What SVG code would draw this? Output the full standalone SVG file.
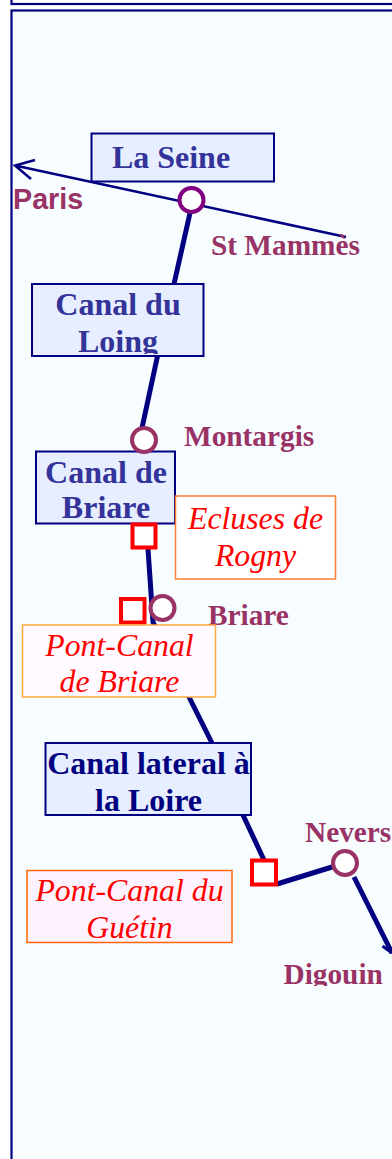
<svg xmlns="http://www.w3.org/2000/svg" width="392" height="1159" viewBox="0 0 392 1159">
<style>
.canal{fill:#e6eeff;stroke:#000080;stroke-width:2}
.ct{font:bold 32px "Liberation Serif",serif;fill:#333399;text-anchor:middle}
.place{font:bold 29.300px "Liberation Serif",serif;fill:#993366}
.wt{font:italic 31.800px "Liberation Serif",serif;fill:#ff0000;text-anchor:middle}
.stop{fill:#ffffff;stroke:#993366;stroke-width:4}
.lock{fill:#ffffff;stroke:#ff0000;stroke-width:4}
.water{fill:none;stroke:#000080;stroke-width:5}
</style>
<defs>
<clipPath id="c1"><rect x="32" y="284" width="172" height="70"/></clipPath>
<clipPath id="c2"><rect x="270" y="950" width="122" height="36"/></clipPath>
</defs>
<rect width="392" height="1159" fill="#ffffff"/>
<rect x="11.500" y="-20" width="400" height="24" fill="#ffffff" stroke="#000080" stroke-width="2.200"/>
<rect x="11.500" y="10.500" width="400" height="1170" fill="#f7fcff" stroke="#000080" stroke-width="2.200"/>
<g id="connectors">
<path class="water" d="M190 213L174 284M157.500 356L142 428M148 549L153 622L189 697L212 743M243 815L264 860M277 884L345 863M354 877L392 953"/>
<path d="M382.500 946L392 953" fill="none" stroke="#000080" stroke-width="3"/>
<path d="M346 237L15 165.500M35 160L15 165.500L31 179" fill="none" stroke="#000080" stroke-width="2.500"/>
</g>
<g id="la-seine"><rect class="canal" x="91.500" y="133.500" width="182.500" height="48"/><text class="ct" x="171" y="168">La Seine</text></g>
<g id="canal-du-loing"><rect class="canal" x="32" y="284" width="171.500" height="72"/><g clip-path="url(#c1)"><text class="ct" x="118" y="315">Canal du</text><text class="ct" x="118" y="352">Loing</text></g></g>
<g id="paris"><text x="13" y="209" style="font:bold 28.700px 'Liberation Sans',sans-serif;fill:#993366">Paris</text></g>
<g id="st-mammes"><circle cx="191.500" cy="200" r="12" fill="#ffffff" stroke="#800080" stroke-width="4"/><text class="place" x="211" y="255">St Mammès</text></g>
<g id="montargis"><text class="place" x="184" y="446">Montargis</text></g>
<g id="canal-de-briare"><rect class="canal" x="36" y="451.500" width="139" height="72"/><text class="ct" x="106" y="483">Canal de</text><text class="ct" x="106" y="518">Briare</text></g>
<circle class="stop" cx="144" cy="440" r="12"/>
<g id="ecluses-de-rogny"><rect x="175.500" y="496" width="160" height="83" fill="#ffffff" stroke="#ff8033" stroke-width="1.500"/><text class="wt" x="255.500" y="529">Ecluses de</text><text class="wt" x="255.500" y="566">Rogny</text></g>
<rect class="lock" x="132.500" y="524.500" width="23" height="23"/>
<g id="briare"><text class="place" x="208" y="625">Briare</text><circle class="stop" cx="162.500" cy="608" r="12"/></g>
<rect class="lock" x="121" y="599" width="23.500" height="23.500"/>
<g id="pont-canal-de-briare"><rect x="22.500" y="625" width="193" height="72" fill="#fffaff" stroke="#ffa940" stroke-width="1.500"/><text class="wt" x="119.500" y="656">Pont-Canal</text><text class="wt" x="119.500" y="692">de Briare</text></g>
<g id="canal-lateral"><rect class="canal" x="45.500" y="743" width="205.500" height="72"/><text class="ct" x="148.500" y="774" style="fill:#000080">Canal lateral à</text><text class="ct" x="148.500" y="811" style="fill:#000080">la Loire</text></g>
<g id="pont-canal-guetin-lock"><rect class="lock" x="252" y="860.500" width="24" height="24"/></g>
<g id="nevers"><text class="place" x="305" y="841.500">Nevers</text><circle class="stop" cx="345" cy="863" r="12"/></g>
<g id="pont-canal-du-guetin"><rect x="27" y="870.500" width="205" height="72" fill="#fcf3ff" stroke="#ff6600" stroke-width="1.500"/><text class="wt" x="129.500" y="901">Pont-Canal du</text><text class="wt" x="129.500" y="938">Guétin</text></g>
<g id="digouin" clip-path="url(#c2)"><text class="place" x="283.500" y="984">Digouin</text></g>
</svg>
